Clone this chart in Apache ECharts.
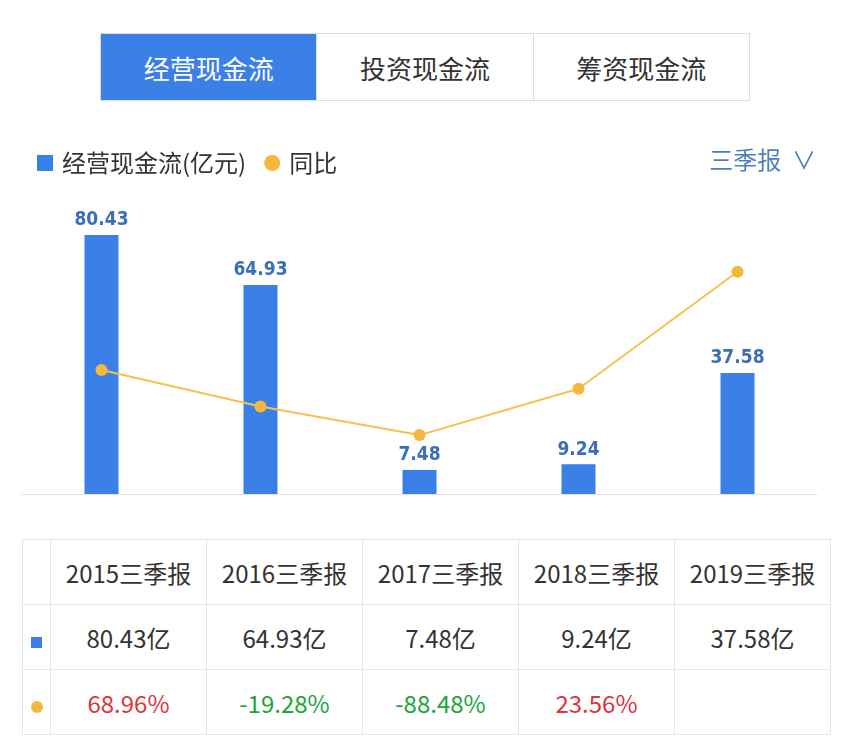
<!DOCTYPE html>
<html><head><meta charset="utf-8">
<script src="https://cdn.jsdelivr.net/npm/echarts@6/dist/echarts.min.js"></script>
<style>
body{margin:0;width:852px;height:746px;background:#fff;font-family:"Noto Sans CJK SC","Noto Sans",sans-serif;position:relative;overflow:hidden}
#tabs{position:absolute;left:100px;top:33px;width:650px;height:68px;display:flex;border:1px solid #ddd;box-sizing:border-box}
#tabs div{flex:1;display:flex;align-items:center;justify-content:center;font-size:26px;color:#333;border-right:1px solid #ddd}
#tabs div:last-child{border-right:none}
#tabs .on{background:#3b80e6;color:#fff}
#chart{position:absolute;left:0;top:130px;width:852px;height:390px}
#tbl{position:absolute;left:22px;top:539px;border-collapse:collapse;font-size:24px;color:#333}
#tbl td{border:1px solid #e6e6e6;height:64px;text-align:center;padding:0}
.red{color:#d9363e}.green{color:#20a53a}
</style></head><body>
<div id="tabs"></div>
<div id="chart"></div>
<table id="tbl"></table>
<script>
const tabs=["经营现金流","投资现金流","筹资现金流"];
const categories=["2015三季报","2016三季报","2017三季报","2018三季报","2019三季报"];
const cashFlow=[80.43,64.93,7.48,9.24,37.58];
const yoy=[68.96,-19.28,-88.48,23.56,306.7];
const yoyShown=["68.96%","-19.28%","-88.48%","23.56%",""];

document.getElementById('tabs').innerHTML=tabs.map((t,i)=>`<div class="${i===0?'on':''}">${t}</div>`).join('');
let h='<tr><td style="width:27px"></td>'+categories.map(c=>`<td style="width:155px">${c}</td>`).join('')+'</tr>';
h+='<tr><td><span style="display:inline-block;width:11px;height:11px;background:#3b80e6"></span></td>'+cashFlow.map(v=>`<td>${v}亿</td>`).join('')+'</tr>';
h+='<tr><td><span style="display:inline-block;width:12px;height:12px;border-radius:50%;background:#f5b83d"></span></td>'+yoyShown.map((v,i)=>`<td class="${yoy[i]>=0?'red':'green'}">${v}</td>`).join('')+'</tr>';
document.getElementById('tbl').innerHTML=h;

const c=echarts.init(document.getElementById('chart'));
c.setOption({
 animation:false,
 legend:{left:32,top:16,itemGap:18,itemWidth:16,itemHeight:16,textStyle:{fontSize:24,color:'#333',fontFamily:'Noto Sans CJK SC',padding:[0,0,0,4]},
   data:[{name:'经营现金流(亿元)',icon:'rect'},{name:'同比',icon:'circle'}]},
 graphic:[{type:'text',right:36,top:18,style:{text:'三季报  ∨',fontSize:24,fill:'#4a7fc0',fontFamily:'Noto Sans CJK SC'}}],
 grid:{left:22,right:35,top:42,bottom:26},
 xAxis:{type:'category',data:categories,axisLine:{lineStyle:{color:'#e3e3e3'}},axisTick:{show:false},axisLabel:{show:false}},
 yAxis:[{type:'value',min:0,max:100,show:false},{type:'value',min:-231,max:548,show:false}],
 series:[
  {name:'经营现金流(亿元)',type:'bar',data:cashFlow,barWidth:34,itemStyle:{color:'#3b80e6'},
   label:{show:true,position:'top',color:'#3b6fb8',fontSize:19,fontWeight:'bold',fontFamily:'DejaVu Sans Condensed'}},
  {name:'同比',type:'line',yAxisIndex:1,data:yoy,symbol:'circle',symbolSize:12,
   itemStyle:{color:'#f5b83d'},lineStyle:{color:'#f5c24d',width:2}}
 ]
});
</script></body></html>
